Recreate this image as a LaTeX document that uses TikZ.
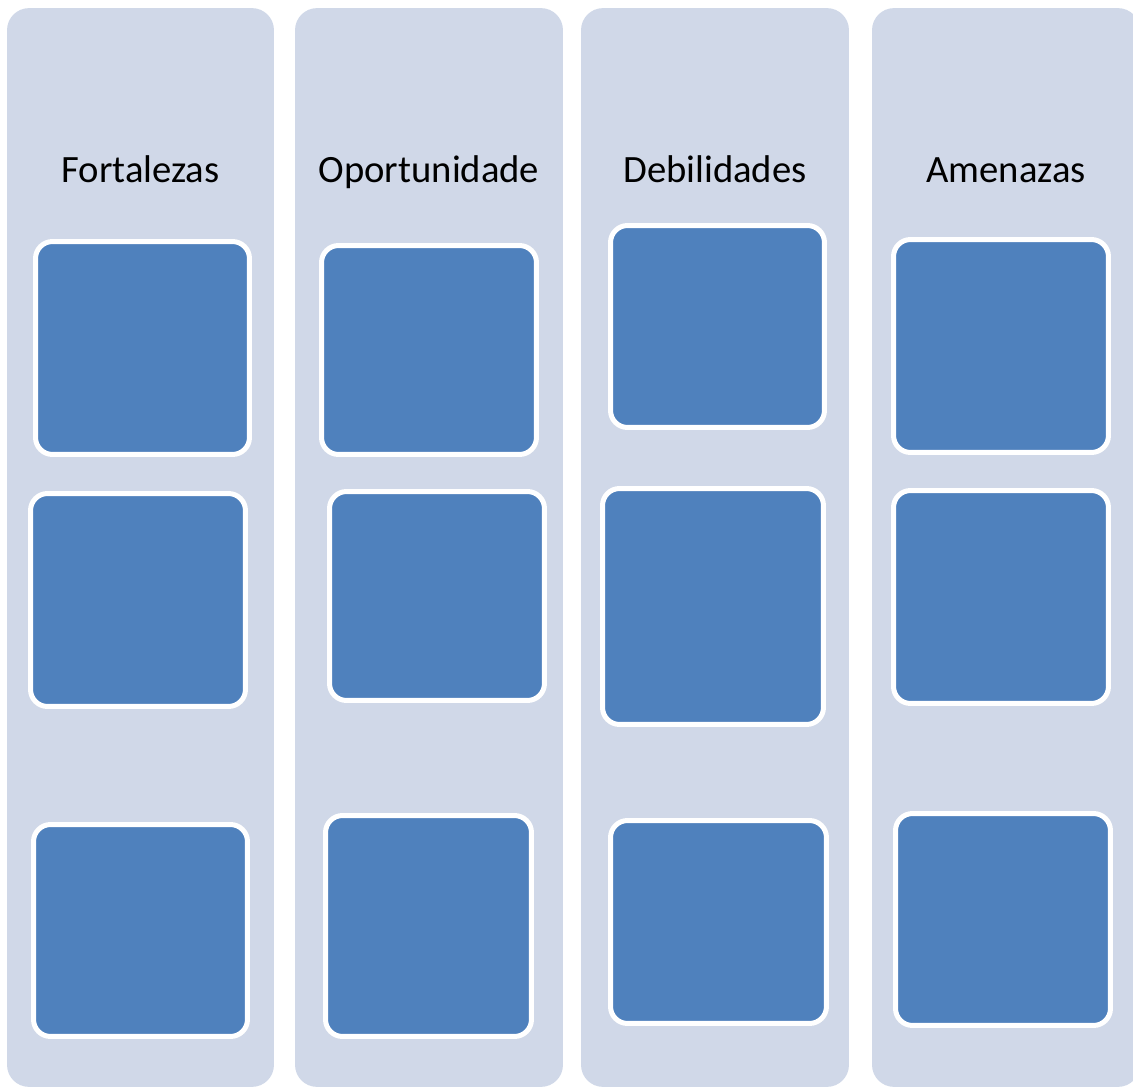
\documentclass[tikz,border=0pt]{standalone}
\usepackage{fontspec}
\setmainfont{Carlito}
\usepackage{tikz}
\usetikzlibrary{positioning}

\definecolor{colfill}{HTML}{D0D8E8}
\definecolor{cellfill}{HTML}{4F81BD}

\begin{document}
\begin{tikzpicture}[x=0.02cm,y=-0.02cm,
            column/.style={
                rectangle, rounded corners=0.44cm, fill=colfill, draw=none,
                minimum width=5.36cm, minimum height=21.58cm,
                inner sep=0pt, outer sep=0pt},
            cell/.style={
                rectangle, rounded corners=0.34cm, fill=cellfill, draw=white,
                line width=0.1cm, inner sep=0pt, outer sep=0pt},
            title/.style={anchor=base, inner sep=0pt,
                font=\fontsize{22}{26}\selectfont}]

            \useasboundingbox (0,0) rectangle (1133,1088);
            \clip (0,0) rectangle (1133,1088);

            \node [column,minimum width=5.34cm] (colF) at (140.5,547.5) {};
            \node [column] (colO) at (429,547.5) {};
            \node [column] (colD) at (715,547.5) {};
            \node [column] (colA) at (1006,547.5) {};

            \node [title] (tF) at (140.5,182) {Fortalezas};
            \node [title] (tO) at (429,182) {Oportunidade};
            \node [title] (tD) at (715,182) {Debilidades};
            \node [title] (tA) at (1006,182) {Amenazas};

            \node [cell,minimum width=4.28cm,minimum height=4.26cm] (f1) at (142.5,348) {};
            \node [cell,minimum width=4.30cm,minimum height=4.26cm] (f2) at (138,600) {};
            \node [cell,minimum width=4.28cm,minimum height=4.24cm] (f3) at (140.5,930.5) {};

            \node [cell,minimum width=4.30cm,minimum height=4.18cm] (o1) at (429,350) {};
            \node [cell,minimum width=4.30cm,minimum height=4.18cm] (o2) at (437,596) {};
            \node [cell,minimum width=4.12cm,minimum height=4.42cm] (o3) at (428.5,926) {};

            \node [cell,minimum width=4.28cm,minimum height=4.04cm] (d1) at (717.5,326.5) {};
            \node [cell,minimum width=4.42cm,minimum height=4.72cm] (d2) at (713,606.5) {};
            \node [cell,minimum width=4.32cm,minimum height=4.06cm] (d3) at (718.5,922) {};

            \node [cell,minimum width=4.30cm,minimum height=4.26cm] (a1) at (1001,346) {};
            \node [cell,minimum width=4.30cm,minimum height=4.26cm] (a2) at (1001,597) {};
            \node [cell,minimum width=4.30cm,minimum height=4.24cm] (a3) at (1003,919.5) {};

        \end{tikzpicture}
\end{document}
